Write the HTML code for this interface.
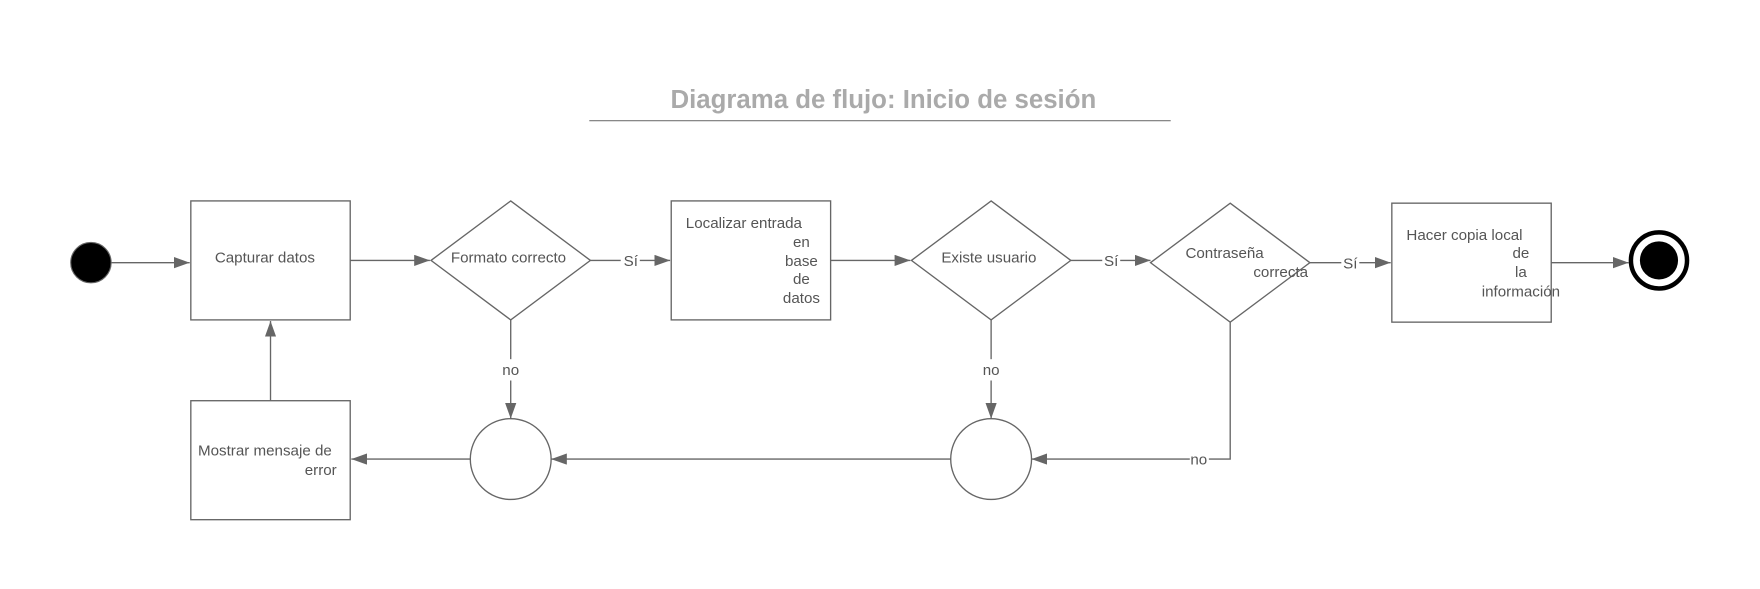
<!DOCTYPE html>
<html><head><meta charset="utf-8"><style>html,body{margin:0;padding:0;background:#fff}svg{display:block}</style></head>
<body>
<svg width="1760" height="589" viewBox="0 0 1568 524.75" xmlns="http://www.w3.org/2000/svg" font-family="Liberation Sans, sans-serif">
<defs><marker id="a" markerWidth="14" markerHeight="10" refX="14" refY="5" orient="auto" markerUnits="userSpaceOnUse"><path d="M0,0 L14,5 L0,10 z" fill="#666"/></marker></defs>
<text x="787" y="96" text-anchor="middle" font-size="23" font-weight="bold" fill="#aaa">Diagrama de flujo: Inicio de sesión</text>
<line x1="525" y1="107.5" x2="1043" y2="107.5" stroke="#777" stroke-width="1"/>
<g stroke="#666" stroke-width="1.2" fill="none">
<line x1="99" y1="234" x2="169" y2="234" marker-end="url(#a)"/>
<line x1="312" y1="232" x2="383" y2="232" marker-end="url(#a)"/>
<line x1="526" y1="232" x2="553" y2="232"/><line x1="570" y1="232" x2="597" y2="232" marker-end="url(#a)"/>
<line x1="740" y1="232" x2="811" y2="232" marker-end="url(#a)"/>
<line x1="954" y1="232" x2="982" y2="232"/><line x1="998" y1="232" x2="1025" y2="232" marker-end="url(#a)"/>
<line x1="1167" y1="234" x2="1195" y2="234"/><line x1="1211" y1="234" x2="1239" y2="234" marker-end="url(#a)"/>
<line x1="1382" y1="234" x2="1451" y2="234" marker-end="url(#a)"/>
<line x1="455" y1="285" x2="455" y2="320"/><line x1="455" y1="339" x2="455" y2="373" marker-end="url(#a)"/>
<line x1="883" y1="285" x2="883" y2="320"/><line x1="883" y1="339" x2="883" y2="373" marker-end="url(#a)"/>
<polyline points="1096,287 1096,409 1077,409"/><line x1="1060" y1="409" x2="919" y2="409" marker-end="url(#a)"/>
<line x1="847" y1="409" x2="491" y2="409" marker-end="url(#a)"/>
<line x1="419" y1="409" x2="313" y2="409" marker-end="url(#a)"/>
<line x1="241" y1="357" x2="241" y2="286" marker-end="url(#a)"/>
<rect x="170" y="179" width="142" height="106"/>
<rect x="598" y="179" width="142" height="106"/>
<rect x="1240" y="181" width="142" height="106"/>
<rect x="170" y="357" width="142" height="106"/>
<polygon points="455,179 526,232 455,285 384,232"/>
<polygon points="883,179 954,232 883,285 812,232"/>
<polygon points="1096,181 1167,234 1096,287 1025,234"/>
<circle cx="455" cy="409" r="36"/>
<circle cx="883" cy="409" r="36"/>
</g>
<circle cx="81" cy="234" r="18" fill="#000" stroke="#666"/>
<circle cx="1478" cy="232" r="25" fill="#fff" stroke="#000" stroke-width="4"/>
<circle cx="1478" cy="232" r="17" fill="#000"/>
<g font-size="13.5" fill="#555">
<text x="236" y="234" text-anchor="middle">Capturar datos</text>
<text x="453" y="234" text-anchor="middle">Formato correcto</text>
<text x="562" y="237" text-anchor="middle">Sí</text>
<text x="611" y="203">Localizar entrada</text>
<text x="714" y="220" text-anchor="middle">en</text>
<text x="714" y="237" text-anchor="middle">base</text>
<text x="714" y="253" text-anchor="middle">de</text>
<text x="714" y="270" text-anchor="middle">datos</text>
<text x="881" y="234" text-anchor="middle">Existe usuario</text>
<text x="990" y="237" text-anchor="middle">Sí</text>
<text x="1091" y="230" text-anchor="middle">Contraseña</text>
<text x="1141" y="247" text-anchor="middle">correcta</text>
<text x="1203" y="239" text-anchor="middle">Sí</text>
<text x="1253" y="214">Hacer copia local</text>
<text x="1355" y="230" text-anchor="middle">de</text>
<text x="1355" y="247" text-anchor="middle">la</text>
<text x="1355" y="264" text-anchor="middle">información</text>
<text x="455" y="334" text-anchor="middle">no</text>
<text x="883" y="334" text-anchor="middle">no</text>
<text x="1068" y="414" text-anchor="middle">no</text>
<text x="236" y="406" text-anchor="middle">Mostrar mensaje de</text>
<text x="300" y="423" text-anchor="end">error</text>
</g>
</svg>
</body></html>
